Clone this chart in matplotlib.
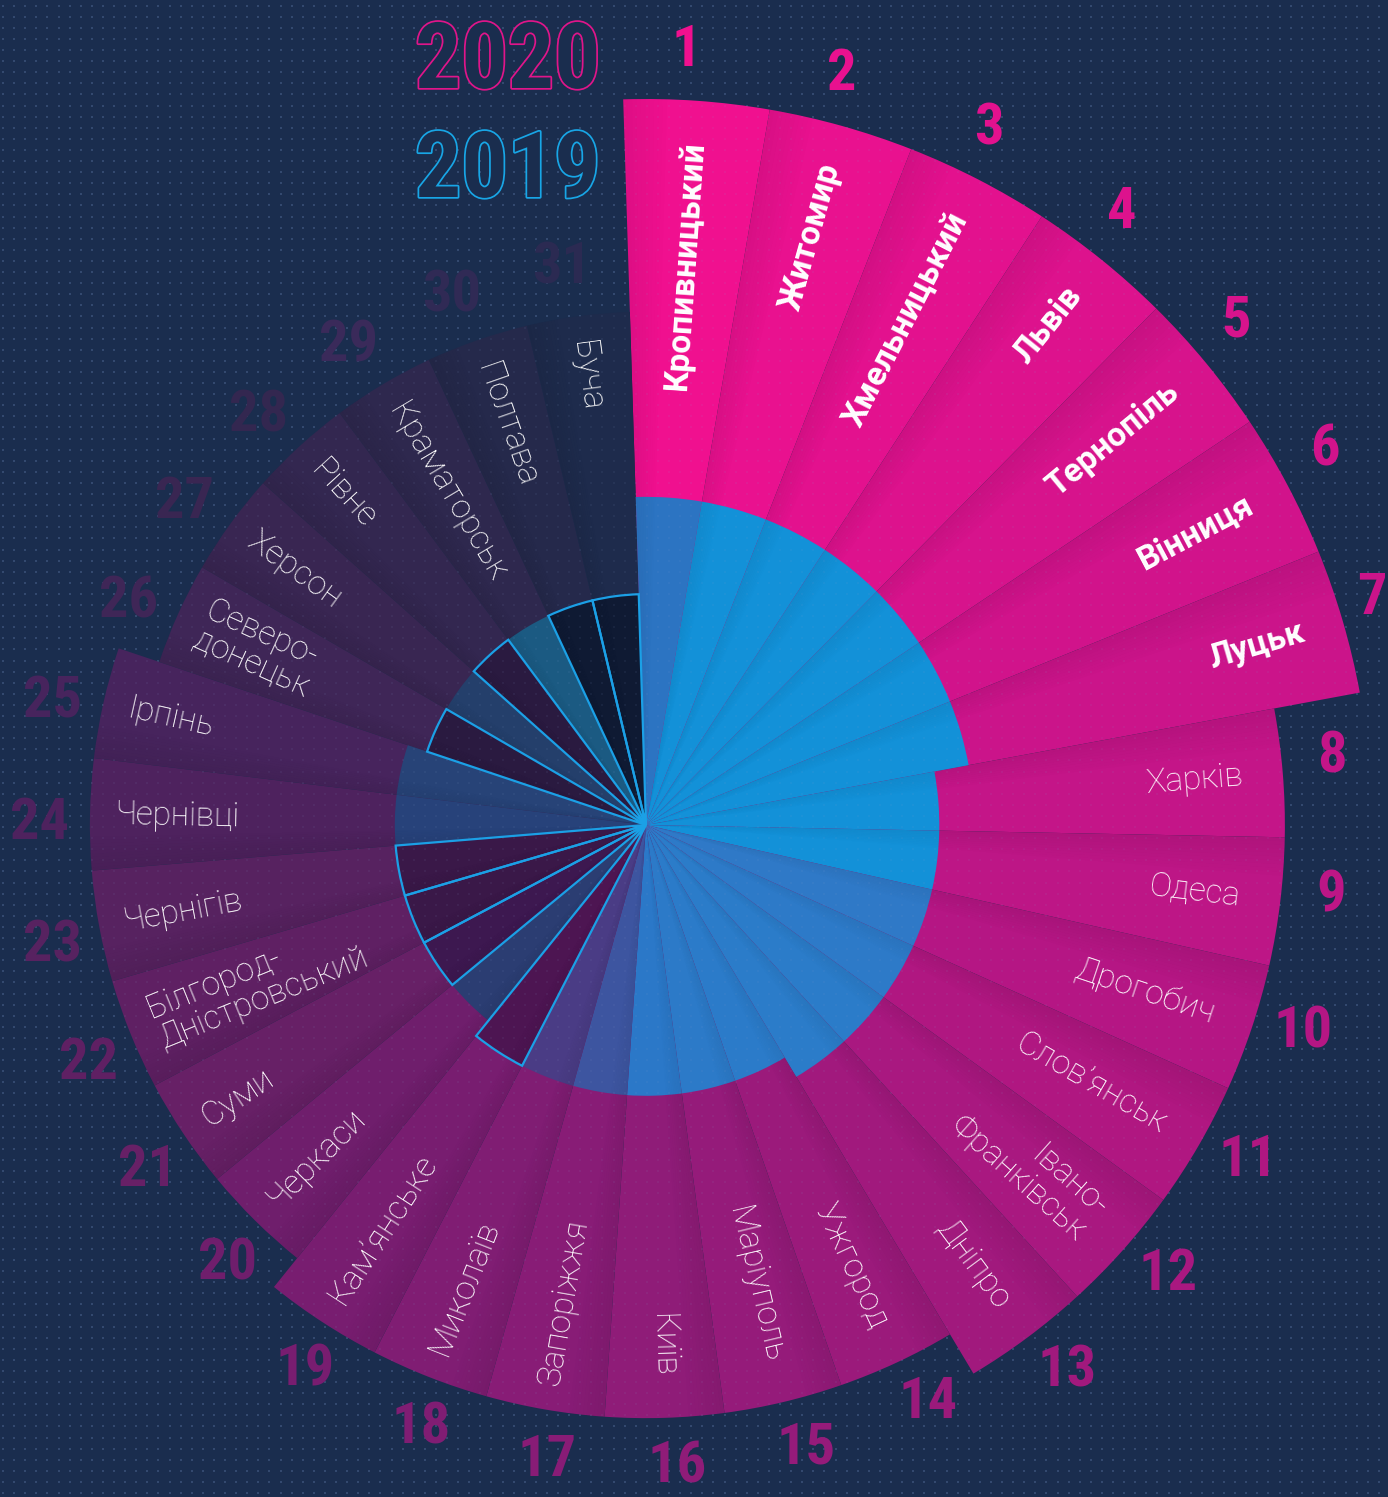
import numpy as np
import matplotlib
matplotlib.use("Agg")
import matplotlib.pyplot as plt
import matplotlib.patheffects as pe
from matplotlib import font_manager
from matplotlib.transforms import IdentityTransform

# Cities ranked 1..31 clockwise from the top
cities = ["Кропивницький", "Житомир", "Хмельницький", "Львів", "Тернопіль",
          "Вінниця", "Луцьк", "Харків", "Одеса", "Дрогобич",
          "Слов’янськ", "Івано-\nФранківськ", "Дніпро", "Ужгород", "Маріуполь",
          "Київ", "Запоріжжя", "Миколаїв", "Кам’янське", "Черкаси",
          "Суми", "Білгород-\nДністровський", "Чернігів", "Чернівці", "Ірпінь",
          "Северо-\nдонецьк", "Херсон", "Рівне", "Краматорськ", "Полтава", "Буча"]

# bar lengths (100 = longest 2020 bar)
score_2020 = [100, 100, 100, 100, 100, 100, 100,
              88, 88, 88, 88, 88, 88,
              81.7, 81.7, 81.7, 81.7, 81.7, 81.7,
              76.6, 76.6, 76.6, 76.6, 76.6, 76.6,
              70.7, 70.7, 70.7, 70.7, 70.7, 70.7]
score_2019 = [45.2, 45.2, 45.2, 45.2, 45.2, 45.2, 45.2,
              40.4, 40.4, 40.4, 40.4, 40.4, 40.4,
              37.3, 37.3, 37.3, 37.3, 37.3, 37.3,
              34.6, 34.6, 34.6, 34.6, 34.6, 34.6,
              31.8, 31.8, 31.8, 31.8, 31.8, 31.8]
# 2019 wedges drawn only as an outline (dark fill)
outlined_2019 = [False] * 18 + [True, False, True, True, True, False, False,
                                True, False, True, False, True, True]

colors_2020 = ["#f0108f", "#e9118f", "#e3118e", "#dd128d", "#d7138c", "#d1138b",
               "#cb148a", "#c41588", "#bd1686", "#b51684", "#b01781", "#a91880",
               "#a1197d", "#9b1a7b", "#951b7a", "#8f1c78", "#881c76", "#801d73",
               "#781d70", "#6f1e6c", "#672066", "#5f2063", "#572260", "#4e225e",
               "#47245d", "#3f2657", "#392652", "#332750", "#2e284e", "#25294b",
               "#1e2b4c"]
colors_2019 = ["#2c74c2", "#1391d8", "#1391d8", "#1391d8", "#1391d8", "#1391d8",
               "#1391d8", "#1391d8", "#1391d8", "#2f79c7", "#2d7ac8", "#2b7cc9",
               "#2b7cc9", "#2b7bc9", "#2c7ac8", "#2b78c8", "#3d55a0", "#4a3c85",
               "#4d1552", "#2b3d72", "#3d1850", "#3a1848", "#3a1848", "#27427a",
               "#274377", "#2a1a40", "#243f6b", "#2a1a40", "#1b5a82", "#0f1a33",
               "#0f1a33"]
num_colors = colors_2020[:28] + ["#3a2a5a", "#302a55", "#2b2a52"]

W, H = 1388, 1497
BG = "#1a2d4e"
CX, CY = 646, 672      # centre of the fan, px from bottom-left
PX = 7.26              # pixels per score unit
RPX = 820

installed = {f.name for f in font_manager.fontManager.ttflist}
num_font = next((f for f in ["Liberation Sans Narrow", "DejaVu Sans Condensed", "Roboto Condensed"]
                 if f in installed), "DejaVu Sans")
name_font = "Roboto" if "Roboto" in installed else "DejaVu Sans"

fig = plt.figure(figsize=(W / 100, H / 100), dpi=100, facecolor=BG)

ax = fig.add_axes([(CX - RPX) / W, (CY - RPX) / H, 2 * RPX / W, 2 * RPX / H],
                  projection="polar", zorder=1)
ax.set_theta_zero_location("N")
ax.set_theta_direction(-1)
ax.set_ylim(0, RPX / PX)
ax.set_axis_off()

n = len(cities)
step = 2 * np.pi / n
theta = np.deg2rad(-1.8) + (np.arange(n) + 0.5) * step
s20 = np.array(score_2020)
s19 = np.array(score_2019)
mask = np.array(outlined_2019)

# dotted backdrop (pixel coordinates), under the texts
gx, gy = np.meshgrid(np.arange(3, W, 11.1), np.arange(4, H, 11.1))
ax.scatter(gx.ravel(), gy.ravel(), s=0.9, marker="s", color="#7090c0", alpha=0.22,
           linewidths=0, transform=IdentityTransform(), clip_on=False, zorder=0)

# 2020 fan
ax.bar(theta, s20, width=step, color=colors_2020, linewidth=0, zorder=1)
# soft shadow along the leading edge of every blade
for k in range(10):
    ax.bar(theta - step / 2 + (k + 0.5) * step * 0.03, s20, width=step * 0.03,
           color="black", alpha=0.07 * (1 - k / 10), linewidth=0, zorder=2)

# 2019 fan
ax.bar(theta, s19, width=step, color=colors_2019, linewidth=0, zorder=3)
for k in range(10):
    ax.bar(theta - step / 2 + (k + 0.5) * step * 0.03, s19, width=step * 0.03,
           color="black", alpha=0.05 * (1 - k / 10), linewidth=0, zorder=3.5)
ax.bar(theta[mask], s19[mask], width=step, facecolor="none", edgecolor="#1ba0e6",
       linewidth=1.6, zorder=4)

# faint dots over the blades
ax.scatter(gx.ravel(), gy.ravel(), s=0.9, marker="s", color="#8aa0d0", alpha=0.08,
           linewidths=0, transform=IdentityTransform(), clip_on=False, zorder=5)

# city names and rank numbers
for i, (name, r, t) in enumerate(zip(cities, s20, theta)):
    phi = np.rad2deg(t) % 360
    if phi < 180:
        rot, ha, rr = 90 - phi, "right", r - 40 / PX
    else:
        rot, ha, rr = 270 - phi, "left", r - 25 / PX
    if i < 7:
        ax.text(t, rr, name, rotation=rot, rotation_mode="anchor", ha=ha, va="center",
                color="white", fontsize=24, fontweight="bold", family=name_font, zorder=6)
    else:
        ax.text(t, rr, name, rotation=rot, rotation_mode="anchor", ha=ha, va="center",
                multialignment=ha, linespacing=1.0, color="white", fontsize=24,
                fontweight="light", family=name_font, zorder=6)
    tn = t - np.deg2rad(1.0)
    rn = r + 50 / PX
    # keep the rank number inside the right edge of the picture
    xpx = CX + rn * PX * np.sin(tn)
    if xpx > W - 16:
        rn = (W - 16 - CX) / (PX * np.sin(tn))
    ax.text(tn, rn, str(i + 1), ha="center", va="center",
            color=num_colors[i], fontsize=42, fontweight="bold", family=num_font, zorder=6)

# outlined year legend
fig.text(415 / W, 1 - 88 / H, "2020", fontsize=66, fontweight="bold", family=num_font,
         color=BG, va="baseline", ha="left", zorder=5,
         path_effects=[pe.withStroke(linewidth=2.5, foreground="#e0158a")])
fig.text(415 / W, 1 - 197 / H, "2019", fontsize=66, fontweight="bold", family=num_font,
         color=BG, va="baseline", ha="left", zorder=5,
         path_effects=[pe.withStroke(linewidth=2.5, foreground="#18a6e6")])

fig.savefig("out.png", dpi=100, facecolor=BG)
